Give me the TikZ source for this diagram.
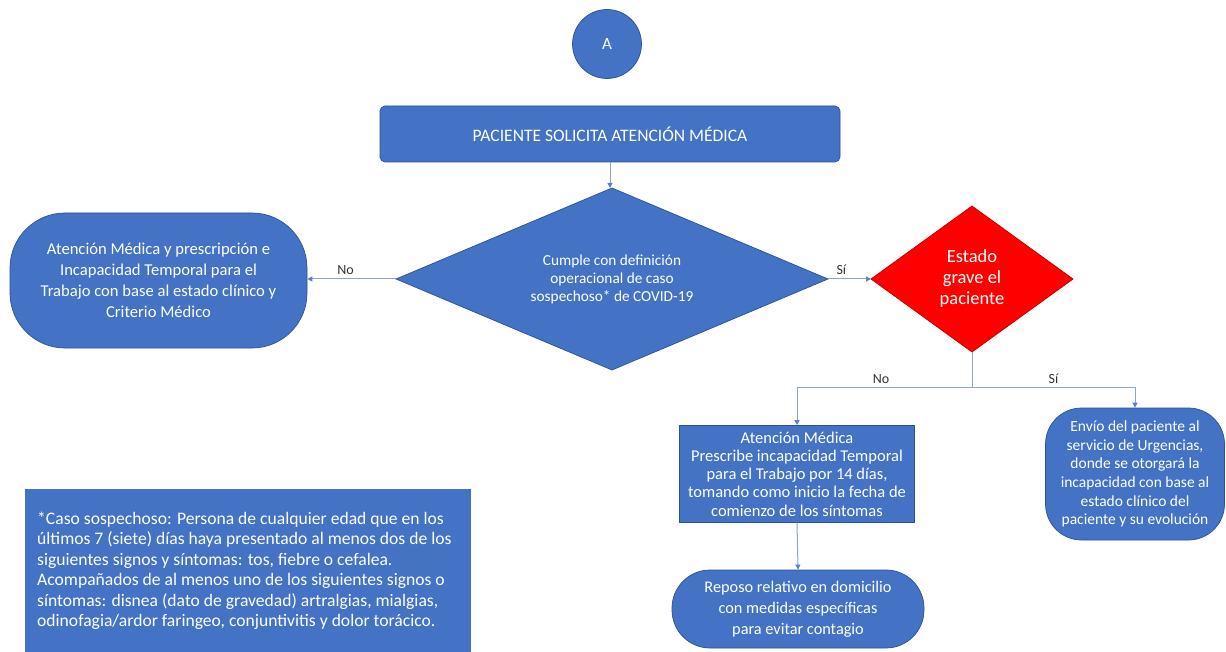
\documentclass[tikz,border=0pt]{standalone}
\usepackage{fontspec}
\setmainfont{Carlito}
\usetikzlibrary{shapes.geometric,arrows.meta}
\definecolor{fillblue}{HTML}{4472C4}
\definecolor{edgeblue}{HTML}{2F528F}
\definecolor{linkblue}{HTML}{8AA6D6}
\definecolor{tipblue}{HTML}{5B7FC4}
\definecolor{fillred}{HTML}{FF0000}
\definecolor{edgered}{HTML}{C00000}
\definecolor{labelgray}{HTML}{333333}
\tikzset{
  bluebox/.style={fill=fillblue, draw=edgeblue, line width=0.7pt, text=white, align=center, inner sep=0pt},
  stadium/.style={bluebox, rectangle},
  dec/.style={diamond, inner sep=0pt, outer sep=0pt, text=white, align=center, line width=0.7pt},
  link/.style={draw=linkblue, line width=1pt, -{Triangle[length=5pt,width=5pt,color=tipblue]}},
  plain/.style={draw=linkblue, line width=1pt},
  lbl/.style={text=labelgray, font=\fontsize{14}{16}\selectfont, inner sep=1pt}
}
\begin{document}
\begin{tikzpicture}[x=1pt,y=-1pt]
\useasboundingbox[fill=white] (0,0) rectangle (1226,652);

% connector A
\node[circle, fill=fillblue, draw=edgeblue, line width=0.7pt, minimum size=69pt, text=white, font=\fontsize{17}{19}\selectfont] (A) at (607,44) {A};

% start rectangle
\node[bluebox, rounded corners=5pt, minimum width=460pt, minimum height=56pt, font=\fontsize{17.5}{20}\selectfont] (start) at (610,134) {PACIENTE SOLICITA ATENCIÓN MÉDICA};

% main decision
\node[dec, aspect=2.37, fill=fillblue, draw=edgeblue, minimum width=432pt, minimum height=182pt, font=\fontsize{15.3}{18}\selectfont] (d1) at (612,279) {Cumple con definición\\operacional de caso\\sospechoso* de COVID-19};

% left outcome
\node[stadium, rounded corners=55pt, minimum width=297pt, minimum height=135pt, font=\fontsize{16.6}{21}\selectfont] (left) at (158.5,280.5) {Atención Médica y prescripción e\\Incapacidad Temporal para el\\Trabajo con base al estado clínico y\\Criterio Médico};

% red decision
\node[dec, aspect=1.38, fill=fillred, draw=edgered, minimum width=202pt, minimum height=146pt, font=\fontsize{18.5}{21}\selectfont] (d2) at (972,279) {Estado\\grave el\\paciente};

% box No
\node[bluebox, minimum width=235pt, minimum height=97pt, font=\fontsize{16.5}{18.3}\selectfont] (box) at (797,474) {Atención Médica\\Prescribe incapacidad Temporal\\para el Trabajo por 14 días,\\tomando como inicio la fecha de\\comienzo de los síntomas};

% right outcome
\node[stadium, rounded corners=36pt, minimum width=179pt, minimum height=132pt, font=\fontsize{15.5}{18.7}\selectfont] (right) at (1135,474) {Envío del paciente al\\servicio de Urgencias,\\donde se otorgará la\\incapacidad con base al\\estado clínico del\\paciente y su evolución};

% bottom outcome
\node[stadium, rounded corners=38pt, minimum width=252pt, minimum height=78pt, font=\fontsize{16.3}{21}\selectfont] (bottom) at (798,609) {Reposo relativo en domicilio\\con medidas específicas\\para evitar contagio};

% footnote
\node[fill=fillblue, draw=fillblue, minimum width=445pt, minimum height=164pt, inner sep=0pt] (note) at (247.5,571) {};
\node[anchor=west, text=white, align=left, inner sep=0pt, font=\fontsize{17.6}{20.5}\selectfont] (notetext) at (37,571) {*Caso sospechoso: Persona de cualquier edad que en los\\últimos 7 (siete) días haya presentado al menos dos de los\\siguientes signos y síntomas: tos, fiebre o cefalea.\\Acompañados de al menos uno de los siguientes signos o\\síntomas: disnea (dato de gravedad) artralgias, mialgias,\\odinofagia/ardor faringeo, conjuntivitis y dolor torácico.};

% connectors
\draw[link] (start.south) -- (start.south |- d1.north);
\draw[link] (d1.west) -- node[lbl, above=3pt, pos=0.57] {No} (d1.west -| left.east);
\draw[link] (d1.east) -- node[lbl, above=3pt, pos=0.31] {Sí} (d2.west);
\coordinate (split) at (972,387);
\draw[plain] (d2.south) -- (split);
\draw[link] (split) -| node[lbl, above=2pt, pos=0.26] {No} (box.north);
\draw[link] (split) -| node[lbl, above=2pt, pos=0.25] {Sí} (right.north);
\draw[link] (box.south) -- (bottom.north);
\end{tikzpicture}
\end{document}
